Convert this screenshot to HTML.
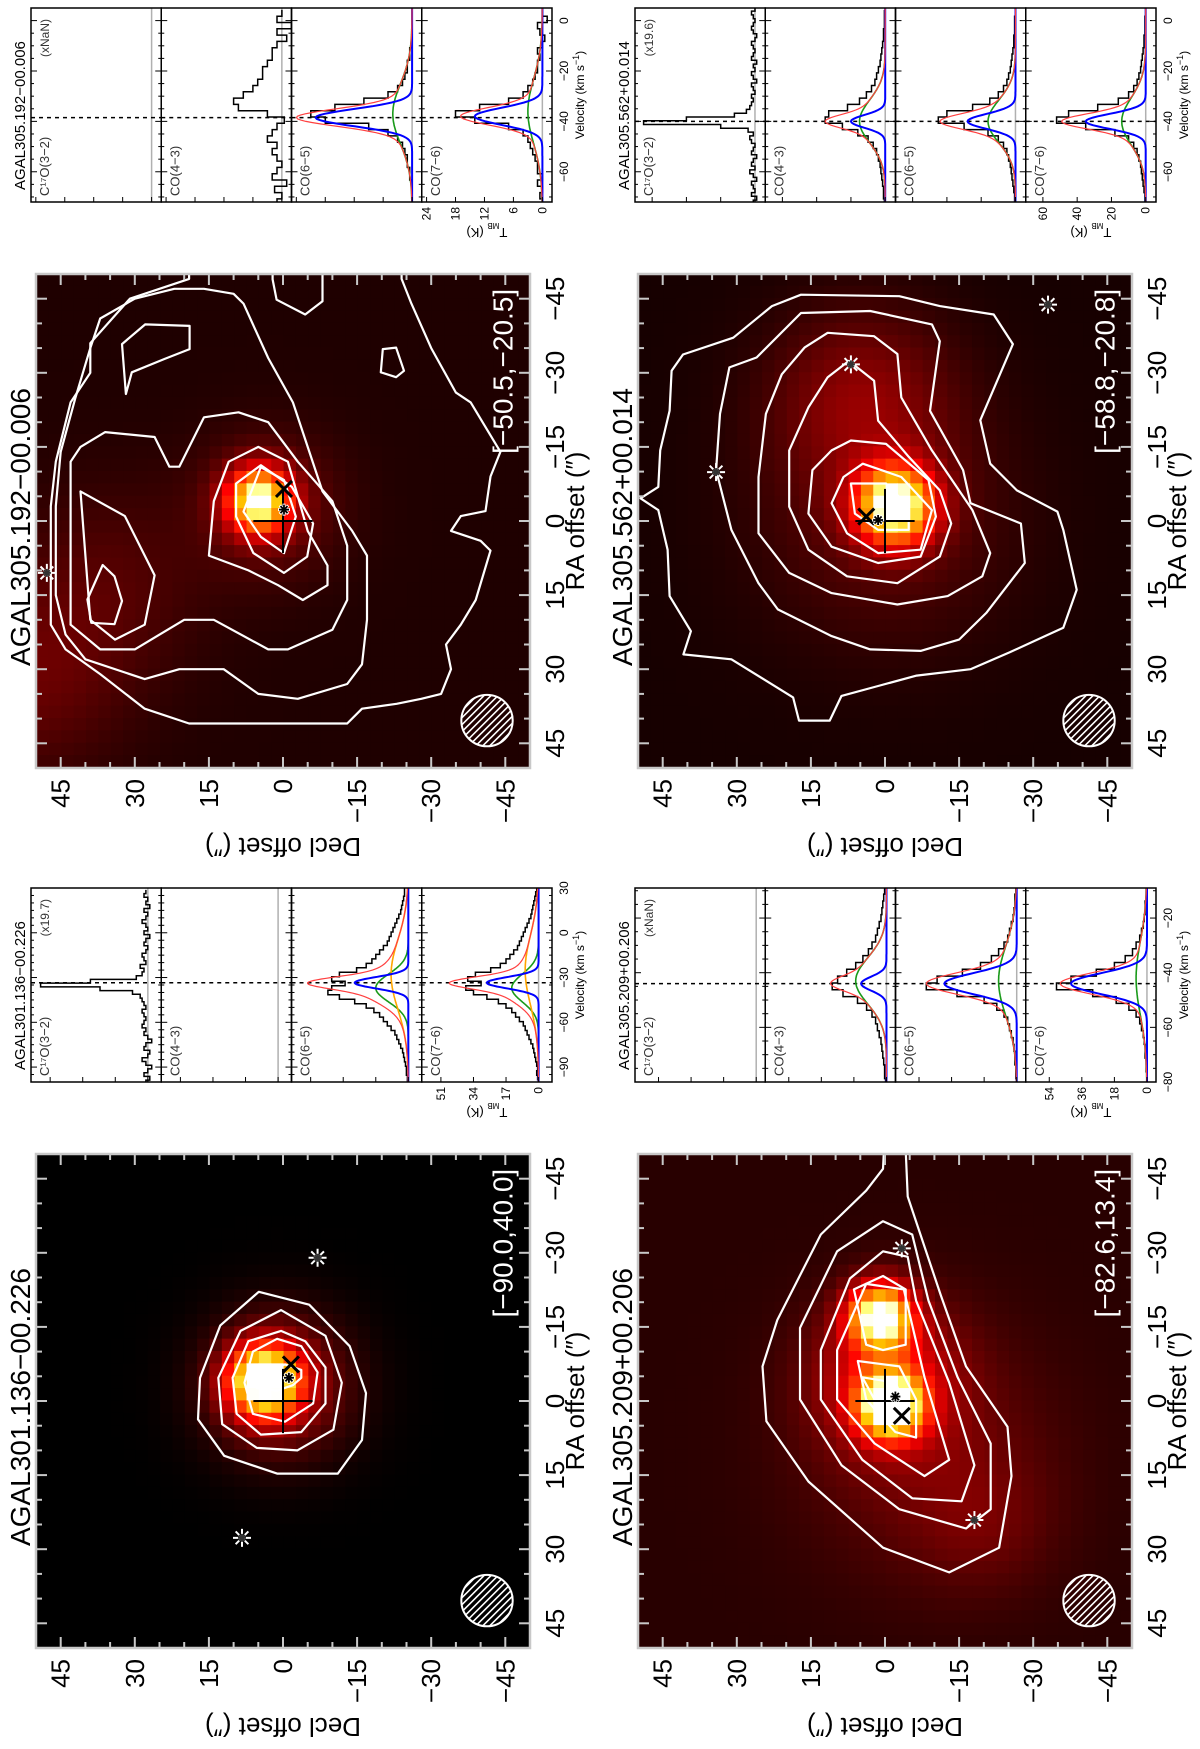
<!DOCTYPE html>
<html>
<head>
<meta charset="utf-8">
<style>
html,body{margin:0;padding:0;background:#fff;}
#stage{position:relative;width:1200px;height:1749px;overflow:hidden;background:#fff;}
#fig{position:absolute;left:0;top:0;width:1749px;height:1200px;transform-origin:0 0;transform:translateY(1749px) rotate(-90deg);font-family:"Liberation Sans",sans-serif;}
</style>
</head>
<body>
<div id="stage">
<svg id="fig" xmlns="http://www.w3.org/2000/svg" width="1749" height="1200" viewBox="0 0 1749 1200"><defs id="defs"></defs></svg>
</div>
<script>
// ---------------- MAP DATA ----------------
const mapTitles = ['AGAL301.136\u221200.226','AGAL305.192\u221200.006','AGAL305.209+00.206','AGAL305.562+00.014'];
const mapRangeLabels = ['[\u221290.0,40.0]','[\u221250.5,\u221220.5]','[\u221282.6,13.4]','[\u221258.8,\u221220.8]'];
const axisTicks = [45,30,15,0,-15,-30,-45];
const mapBackground = [0.0, 0.055, 0.07, 0.04];
// blobs: [ra, dec, amplitude, sigma]
const blobs301 = [[-4,4,0.95,5],[-3,1,0.3,10]];
const blobs192 = [[-4,5,0.85,4.5],[-3,3,0.15,10],[12,35,0.08,14],[32,52,0.12,14]];
const blobs209 = [[1,-1,0.95,4.5],[-17,1,0.9,4.5],[-5,0,0.3,10],[10,-8,0.12,18],[25,-20,0.08,10]];
const blobs562 = [[-3,-2,0.95,5.5],[-25,5,0.18,13],[0,0,0.12,18]];
const mapBlobs = [blobs301, blobs192, blobs209, blobs562];
// contours: arrays of [ra, dec]
const contours301 = [
 [[-22.1,4.9],[-15.3,12.7],[-4.7,16.8],[3.7,17.2],[11.1,11.9],[14.7,1.2],[14.7,-11.1],[7.9,-16],[-1.6,-16.8],[-11.1,-13.5],[-19.5,-5.3]],
 [[-18.4,0.4],[-14.2,8.6],[-4.7,13.1],[4.7,12.3],[9.5,5.3],[10,-2.9],[5.8,-10.2],[-3.7,-11.9],[-13.2,-8.6]],
 [[-14.2,0.4],[-12.1,7],[-4.7,10.2],[2.6,9.4],[6.8,4.5],[6.3,-3.7],[0.5,-8.6],[-6.8,-8.6],[-12.1,-4.5]],
 [[-12.6,1.2],[-10,6.1],[-3.7,7.8],[2.6,6.1],[4.2,-0.4],[0.5,-6.1],[-5.8,-7],[-11.1,-3.7]],
 [[-6.3,2.9],[-4.7,5.3],[-2.6,5.3],[-2.1,1.2],[-3.2,-2],[-4.7,-3.7],[-6.3,-3.7],[-7.4,-0.4]]
];
const contours192 = [
 [[-49,19],[-45,31],[-36,39],[-30,39],[-24,43],[-12,46],[-3,47],[9,47],[21,47],[26,44],[31,37],[38,28],[41,19],[41,9],[41,-4],[41,-13],[38,-16],[37,-23],[36,-28],[35,-32],[30,-34],[25,-33],[21,-36],[16,-39],[6,-42],[4,-40],[2,-34],[-1,-36],[-2,-41],[-9,-42],[-14,-44],[-24,-38],[-26,-35],[-35,-30],[-44,-26],[-49,-24],[-55,-24],[-55,19]],
 [[-47,22],[-45,30],[-41,37],[-35,39],[-25,42],[-14,45],[-3,46],[15,46],[23,44],[28,40],[32,28],[30,21],[30,12],[35,5],[36,-3],[33,-13],[29,-16],[20,-17],[7,-17],[2,-14],[-6,-8],[-24,-2],[-33,3],[-44,8],[-46,10],[-47,16]],
 [[-15,41],[-12,43],[21,43],[26,37],[26,30],[20,20],[20,14],[26,3],[26,-1],[22,-10],[16,-13],[5,-13],[-4,-10],[-12,-3],[-20,3],[-22,9],[-21,16],[-11,21],[-11,23],[-17,26],[-18,36]],
 [[-6,41],[20,39],[24,34],[21,28],[11,26],[-1,32]],
 [[7,15],[-4,14],[-12,11],[-15,5],[-12,-1],[2,-5],[9,-9],[13,-9],[16,-4],[13,1],[10,7]],
 [[-7.6,9.5],[-11.3,4.5],[-6.9,-1.8],[0.5,-6.1],[7.2,-4.9],[10.5,-0.2],[6.5,6],[-0.9,9.5]],
 [[-1.9,8],[-10.9,4.5],[-8.3,-0.2],[-0.9,-2.6],[6.5,-0.2],[3.2,4.5]],
 [[8.9,36.5],[15.9,39.6],[20.6,38.8],[20.9,34.1],[16.2,32.6],[11.2,34.1]],
 [[-25.7,31.8],[-35.8,32.6],[-39.8,27.9],[-39.5,18.9],[-34.8,18.9],[-32.8,24],[-30.1,30.6]],
 [[-34.8,-20.2],[-35.1,-22.9],[-30.4,-24.5],[-29.1,-22.9],[-30.1,-19.8]],
 [[-55,2.1],[-48.9,2.1],[-44.8,1.3],[-41.8,-4.5],[-44.5,-8],[-48.9,-8],[-55,-8]]
];
const contours209 = [
 [[-47,0.4],[-42.6,3.8],[-33.7,13],[-16.4,21.8],[-7,24.8],[4.1,24],[16.3,15.5],[29.7,0.4],[34.7,-13],[29.7,-23.1],[15.2,-25.6],[5.2,-24.8],[-7,-16.4],[-21.4,-11.3],[-41.4,-4.6],[-55,-4],[-55,0]],
 [[-36.4,0.4],[-30.3,9.7],[-14.8,17.2],[-0.3,17.2],[13,8.8],[21.9,-2.9],[25.8,-16.4],[21.9,-21.4],[8.6,-21.4],[-4.8,-14.7],[-20.3,-8.8],[-33.7,-5.5]],
 [[-30.3,0.4],[-24.8,7.1],[-10.3,13],[-0.3,13],[11.9,4.6],[19.7,-5.5],[20.3,-15.5],[13,-18.1],[-3.7,-13],[-20.3,-6.3],[-29.2,-4.6]],
 [[-23.7,3.8],[-10.3,9.7],[-0.3,9.7],[8.6,2.1],[15.2,-8],[11.9,-13],[-4.8,-8],[-22.6,-3.8]],
 [[-22.6,6.3],[-25.3,0.4],[-22.6,-4.2],[-11.4,-4.2],[-10.3,0.4],[-11.4,3.8]],
 [[-8.1,5.5],[-0.3,3.8],[6.3,-2.1],[7.4,-6.3],[-0.3,-6.3],[-7,-2.9]],
 [[-4.8,4.6],[-0.3,2.1],[4.1,-2.9],[1.9,-4.6],[-3.7,-2.1]]
];
const contours562 = [
 [[-45.8,17],[-43.5,22.9],[-37.1,30.7],[-33.7,40.9],[-30.4,43.2],[-22.3,43.6],[-14.3,45.5],[-6.9,45.9],[-4.6,49.5],[-2.2,45.9],[5.8,44],[15.2,43.6],[22.3,39.3],[27,40.8],[28,31.1],[35.7,18.6],[40.4,17.4],[40.4,11.2],[35.4,8.8],[33.4,1.4],[31.3,-6.4],[30,-17.3],[26.6,-25.2],[21.6,-36.1],[13.9,-38.8],[1.8,-36.1],[-1.9,-34.9],[-6.2,-26.7],[-11.6,-21.3],[-20.4,-19.3],[-35.8,-25.9],[-41.8,-22],[-43.5,-11.1],[-45.5,-2.9]],
 [[-42.1,17],[-33.1,26],[-31.1,31.5],[-21.7,33.4],[-10.3,34.2],[1.8,31.1],[12.6,25.6],[17.9,21.7],[23.3,10.8],[26,3],[26.3,-7.2],[24,-15],[18.6,-20.5],[8.5,-28.3],[0.5,-27.5],[-3.6,-17.3],[-10.3,-15.8],[-22.3,-9.1],[-36.4,-11.1],[-39.8,-9.5],[-42.5,3]],
 [[-38.1,11.6],[-37.4,2.2],[-33.8,-2.5],[-25,-3.3],[-14.3,-9.5],[-2.2,-17.7],[6.5,-21.3],[11.2,-19.7],[15.2,-12.7],[16.9,-2.5],[14.6,10.8],[10.5,19.4],[2.5,25.6],[-8.9,25.6],[-21.7,24.1],[-29.7,20.9],[-35.1,16.3]],
 [[-32.4,7.3],[-28.4,2.2],[-20.3,1.4],[-13,-4.8],[-6.2,-11.1],[0.5,-13.4],[7.2,-11.1],[12.6,-2.5],[11.2,7.7],[5.8,15.5],[-2.9,19.4],[-14.3,19.4],[-23,15.5],[-29.1,11.6]],
 [[-14.3,10.8],[-16.3,6.9],[-15.6,-0.2],[-8.3,-8.8],[-0.9,-10.3],[7.2,-7.2],[8.5,1.4],[5.2,10.8],[-1.5,15.5],[-10.3,14.7]],
 [[-8.9,8.4],[-11.6,4.5],[-8.9,-3.3],[-2.2,-9.5],[5.8,-7.2],[6.5,1.4],[2.5,7.7],[-3.6,10.8]],
 [[-7.6,6.9],[-7.6,-0.2],[-2.9,-4.8],[1.8,-4.8],[1.8,1.4],[-1.5,6.1]]
];
const mapContours = [contours301, contours192, contours209, contours562];
const mapStars = [[[27.7,8.3],[-29,-7]], [[10.5,47.8]], [[-30.9,-3.4],[24.1,-18.1]], [[-31.7,6.9],[-9.9,34.2],[-43.8,-33]]];
const mapXMarks = [[-7.4,-1.6],[-6.5,-0.2],[3,-3.4],[-0.9,3.8]];
const mapAsterisks = [[-4.7,-1.2],[-2.3,-0.2],[-0.9,-2.1],[-0.2,1.4]];
const beamPos = [40.4,-41.3];
const beamRadius = 5.2;

// ---------------- SPECTRA DATA ----------------
const lineNames = ['C\u00B9\u2077O(3\u22122)','CO(4\u22123)','CO(6\u22125)','CO(7\u22126)'];
const specTitles = ['AGAL301.136\u221200.226','AGAL305.192\u221200.006','AGAL305.209+00.206','AGAL305.562+00.014'];
const specScaleNotes = ['(x19.7)','(xNaN)','(xNaN)','(x19.6)'];
const specVelRange = [[-100,30],[-72,5],[-80,-9],[-72,5]];
const specVelTicks = [[-90,-60,-30,0,30],[-60,-40,-20,0],[-80,-60,-40,-20],[-60,-40,-20,0]];
const specTRange = [[-7,61],[-2,25],[-5,67],[-6,70]];
const specTTicks = [[0,17,34,51],[0,6,12,18,24],[0,18,36,54],[0,20,40,60]];
const specVlsr = [-33.5,-38.5,-44,-40];
const spec301 = [
 {v0:-100,dv:2.5,vals:[1,-1,2,0,-2,1,3,0,-1,2,1,-2,0,2,1,3,2,1,2,3,1,2,3,4,8,25,56,30,6,3,2,4,1,2,3,1,0,2,1,-1,2,0,1,3,1,0,2,-1,1,0,2,1]},
 null,
 {v0:-100,dv:3,vals:[0.5,0.5,1,1,1.5,2,2.5,3,4,5,6,7,9,11,13,15,18,22,28,36,42,40,33,40,36,27,22,19,17,15,13,11,10,9,8,7,6,5,4,3.5,3,2.5,2,2]},
 {v0:-100,dv:3,vals:[0,0.5,1,0.5,1,1.5,2,2.5,3,4,5,6,7,8,10,12,14,17,21,27,34,38,30,37,33,25,20,17,15,13,11,10,9,8,7,6,5,4,3.5,3,2.5,2,1.5,1]}
];
const spec192 = [
 null,
 {v0:-72,dv:2.5,vals:[1,0,1.5,-1,2,1,0,1,2,1,3,2,1,-0.5,3,9,10,8,6,5,4,4,3,2,2,1,-1,1,-2,1,0]},
 {v0:-72,dv:2.5,vals:[0,0,0,0,0.5,0.5,1,1,1.5,2,3,5,9,18,21,16,10,5,3,2,1.5,1,1,0.5,0.5,0,0,0,0,0,0]},
 {v0:-72,dv:2.5,vals:[0,0.5,0,1,0,1,1,1.5,2,2.5,3,4,7,14,18,13,7,4,3,2,1.5,1,1,0.5,1,0,-0.5,0.5,1,-1,0]}
];
const spec209 = [
 null,
 {v0:-80,dv:2.5,vals:[0.5,1,1,1.5,2,2.5,3,4,5,6,8,11,16,24,30,27,22,17,13,10,8,6,5,4,3,2.5,2,1.5,1]},
 {v0:-80,dv:2.5,vals:[0,0.5,0.5,1,1,1.5,2,3,4,5,7,11,18,33,50,44,30,20,14,10,7,5,4,3,2,1.5,1,1,0.5]},
 {v0:-80,dv:2.5,vals:[0,0,0.5,0.5,1,1,1.5,2,3,4,6,10,17,30,50,42,28,18,12,8,6,4,3,2,1.5,1,1,0.5,0.5]}
];
const spec562 = [
 {v0:-72,dv:1.5,vals:[1,-1,2,0,1,2,-1,1,3,0,2,1,-1,2,1,0,2,3,1,4,20,65,40,12,5,3,2,1,2,0,1,2,-1,1,2,0,1,-1,2,1,0,1,2,0,-1,1,2,1,0,1,2,0]},
 {v0:-72,dv:2.5,vals:[0.5,1,1,1.5,2,2.5,3,4,5,7,10,16,25,35,33,22,15,11,8,6,5,4,3,2.5,2,1.5,1,1,0.5,0.5,0.5]},
 {v0:-72,dv:2.5,vals:[0.5,0.5,1,1.5,2,2.5,3,4,5,7,10,16,30,45,40,25,15,10,7,5,4,3,2.5,2,1.5,1,1,0.5,0.5,0.5,0]},
 {v0:-72,dv:2.5,vals:[0.5,0.5,1,1.5,2,2.5,3,4,5,7,10,18,35,52,45,28,16,10,7,5,4,3,2.5,2,1.5,1,1,0.5,0.5,0.5,0]}
];
const specData = [spec301, spec192, spec209, spec562];
const fits301 = [null, null, {blue:[28,-33.5,9],green:[17,-37,22],orange:[9,-28,55]}, {blue:[27,-33.5,9],green:[14,-37,22],orange:[7,-25,55]}];
const fits192 = [null, null, {blue:[20,-38.5,8],green:[4,-37,28]}, {blue:[14,-38,8],green:[3,-36,30]}];
const fits209 = [null, {blue:[14,-44,6],green:[17,-43,20]}, {blue:[40,-44,9],green:[10,-43,30]}, {blue:[42,-44,9],green:[6,-42,32]}];
const fits562 = [null, {blue:[20,-40,6],green:[15,-40,20]}, {blue:[28,-40,7],green:[16,-40,20]}, {blue:[35,-40,7],green:[14,-40,22]}];
const specFits = [fits301, fits192, fits209, fits562];

// ---------------- LAYOUT (original, unrotated orientation) ----------------
const mapPos = [[101,36],[981,36],[101,638],[981,638]];
const specPos = [[667,31],[1547,31],[667,635],[1547,635]];

// ---------------- DRAWING ----------------
const NS = 'http://www.w3.org/2000/svg';
const svg = document.getElementById('fig');
const defs = document.getElementById('defs');


function mk(tag, attrs, parent, name) {
  const e = document.createElementNS(NS, tag);
  for (const k in attrs) e.setAttribute(k, attrs[k]);
  
  
  (parent || svg).appendChild(e);
  return e;
}
function txt(str, attrs, parent, name) {
  const t = mk('text', attrs, parent, name);
  t.textContent = str;
  return t;
}
function clamp(x){return Math.max(0, Math.min(1, x));}
function cmap(v){
  const r = clamp(v/0.45), g = clamp((v-0.45)/0.45), b = clamp((v-0.8)/0.2);
  return 'rgb(' + Math.round(r*255) + ',' + Math.round(g*255) + ',' + Math.round(b*255) + ')';
}
function star(g, x, y, r, color, w, name) {
  const s = mk('g', {}, g, name);
  for (let a = 0; a < 4; a++) {
    const ang = a*Math.PI/4;
    mk('line', {x1:x-r*Math.cos(ang), y1:y-r*Math.sin(ang), x2:x+r*Math.cos(ang), y2:y+r*Math.sin(ang), stroke:color, 'stroke-width':w}, s, 'star-stroke');
  }
  return s;
}

function drawMap(i) {
  const X0 = mapPos[i][0], Y0 = mapPos[i][1], S = 494, R = 50;
  const px = ra => X0 + (R - ra) / (2*R) * S;
  const py = dec => Y0 + (R - dec) / (2*R) * S;
  const g = mk('g', {}, svg, 'map-panel-' + (i+1));
  const cp = mk('clipPath', {id:'mclip'+i}, defs, 'map-clip');
  mk('rect', {x:X0, y:Y0, width:S, height:S}, cp, 'map-clip-rect');
  const heat = mk('g', {'clip-path':'url(#mclip'+i+')'}, g, 'intensity-image');
  const cell = 2.5, cw = cell*S/(2*R) + 0.6;
  for (let ra = -R; ra < R; ra += cell) {
    for (let dec = -R; dec < R; dec += cell) {
      const cra = ra + cell/2, cdec = dec + cell/2;
      let v = mapBackground[i];
      for (const b of mapBlobs[i]) {
        const d2 = (cra-b[0])*(cra-b[0]) + (cdec-b[1])*(cdec-b[1]);
        v += b[2]*Math.exp(-d2/(2*b[3]*b[3]));
      }
      mk('rect', {x:px(ra+cell).toFixed(2), y:py(dec+cell).toFixed(2), width:cw.toFixed(2), height:cw.toFixed(2), fill:cmap(v)}, heat, 'image-pixel');
    }
  }
  const cg = mk('g', {'clip-path':'url(#mclip'+i+')'}, g, 'contours');
  for (const c of mapContours[i]) {
    const d = c.map((p, k) => (k ? 'L' : 'M') + px(p[0]).toFixed(1) + ',' + py(p[1]).toFixed(1)).join(' ') + ' Z';
    mk('path', {d:d, fill:'none', stroke:'#fff', 'stroke-width':2.2, 'stroke-linejoin':'round'}, cg, 'contour-line');
  }
  const mg = mk('g', {'clip-path':'url(#mclip'+i+')'}, g, 'markers');
  for (const s of mapStars[i]) {
    star(mg, px(s[0]), py(s[1]), 9, '#fff', 2, 'ysos-star');
    star(mg, px(s[0]), py(s[1]), 4, '#333', 2, 'ysos-star-core');
  }
  mk('line', {x1:px(6.5), y1:py(0), x2:px(-6.5), y2:py(0), stroke:'#000', 'stroke-width':2}, mg, 'center-cross-h');
  mk('line', {x1:px(0), y1:py(6), x2:px(0), y2:py(-6), stroke:'#000', 'stroke-width':2}, mg, 'center-cross-v');
  const xm = mapXMarks[i];
  mk('path', {d:'M'+(px(xm[0])-8)+','+(py(xm[1])-8)+' L'+(px(xm[0])+8)+','+(py(xm[1])+8)+' M'+(px(xm[0])-8)+','+(py(xm[1])+8)+' L'+(px(xm[0])+8)+','+(py(xm[1])-8), stroke:'#000', 'stroke-width':3}, mg, 'x-marker');
  const am = mapAsterisks[i];
  star(mg, px(am[0]), py(am[1]), 6, '#fff', 3, 'asterisk-halo');
  star(mg, px(am[0]), py(am[1]), 5, '#000', 1.8, 'asterisk-marker');
  const bx = px(beamPos[0]), by = py(beamPos[1]), br = beamRadius*S/(2*R);
  const bcp = mk('clipPath', {id:'bclip'+i}, defs, 'beam-clip');
  mk('circle', {cx:bx, cy:by, r:br}, bcp, 'beam-clip-circle');
  const bg = mk('g', {'clip-path':'url(#bclip'+i+')'}, g, 'beam-hatch');
  for (let k = -6; k <= 6; k++) {
    mk('line', {x1:bx + k*7 - 40, y1:by - 40, x2:bx + k*7 + 40, y2:by + 40, stroke:'#fff', 'stroke-width':1.6}, bg, 'hatch-line');
  }
  mk('circle', {cx:bx, cy:by, r:br, fill:'none', stroke:'#fff', 'stroke-width':2}, g, 'beam-ellipse');
  txt(mapRangeLabels[i], {x:px(-47), y:py(-46.5), 'text-anchor':'end', fill:'#fff', 'font-size':28, 'font-family':'Liberation Sans, sans-serif'}, g, 'velocity-range-label');
  mk('rect', {x:X0, y:Y0, width:S, height:S, fill:'none', stroke:'#c8c8c8', 'stroke-width':2.5}, g, 'map-frame');
  for (let t = -45; t <= 45; t += 5) {
    const L = (t % 15 === 0) ? 11 : 6;
    mk('line', {x1:px(t), y1:Y0, x2:px(t), y2:Y0+L, stroke:'#c8c8c8', 'stroke-width':2}, g, 'ra-tick-top');
    mk('line', {x1:px(t), y1:Y0+S, x2:px(t), y2:Y0+S-L, stroke:'#c8c8c8', 'stroke-width':2}, g, 'ra-tick-bottom');
    mk('line', {x1:X0, y1:py(t), x2:X0+L, y2:py(t), stroke:'#c8c8c8', 'stroke-width':2}, g, 'dec-tick-left');
    mk('line', {x1:X0+S, y1:py(t), x2:X0+S-L, y2:py(t), stroke:'#c8c8c8', 'stroke-width':2}, g, 'dec-tick-right');
  }
  for (const t of axisTicks) {
    txt(String(t).replace('-', '\u2212'), {x:px(t), y:Y0+S+34, 'text-anchor':'middle', 'font-size':26, fill:'#000'}, g, 'ra-tick-label');
    txt(String(t).replace('-', '\u2212'), {x:X0-11, y:py(t)+9, 'text-anchor':'end', 'font-size':26, fill:'#000'}, g, 'dec-tick-label');
  }
  txt('RA offset (\u2033)', {x:X0+S/2, y:Y0+S+54, 'text-anchor':'middle', 'font-size':26, fill:'#000'}, g, 'x-axis-title');
  txt('Decl offset (\u2033)', {x:X0-70, y:Y0+S/2, 'text-anchor':'middle', 'font-size':26, fill:'#000', transform:'rotate(-90 ' + (X0-70) + ' ' + (Y0+S/2) + ')'}, g, 'y-axis-title');
  txt(mapTitles[i], {x:X0+S/2-6, y:Y0-6, 'text-anchor':'middle', 'font-size':28, fill:'#000'}, g, 'map-title');
}

function gauss(p, v) { return p[0]*Math.exp(-4*Math.LN2*(v-p[1])*(v-p[1])/(p[2]*p[2])); }

function drawSpectra(i) {
  const Xb = specPos[i][0], Yb = specPos[i][1], W = 194, H = 521, h = H/4;
  const vr = specVelRange[i], tr = specTRange[i];
  const vx = v => Xb + (v - vr[0])/(vr[1]-vr[0])*W;
  const g = mk('g', {}, svg, 'spectra-panel-' + (i+1));
  txt(specTitles[i], {x:Xb+12, y:Yb-6, 'font-size':15, fill:'#000'}, g, 'spectra-title');
  for (let k = 0; k < 4; k++) {
    const top = Yb + k*h, bot = top + h;
    const ty = T => bot - (T - tr[0])/(tr[1]-tr[0])*h;
    const pg = mk('g', {}, g, 'spectrum-' + lineNames[k].replace(/[^A-Za-z0-9]/g,'').toLowerCase());
    const cid = 'sclip' + i + '_' + k;
    const cp = mk('clipPath', {id:cid}, defs, 'spectrum-clip');
    mk('rect', {x:Xb, y:top, width:W, height:h}, cp, 'spectrum-clip-rect');
    const inner = mk('g', {'clip-path':'url(#'+cid+')'}, pg, 'spectrum-plot-area');
    mk('line', {x1:Xb, y1:ty(0), x2:Xb+W, y2:ty(0), stroke:'#b0b0b0', 'stroke-width':1.5}, inner, 'baseline');
    mk('line', {x1:vx(specVlsr[i]), y1:top, x2:vx(specVlsr[i]), y2:bot, stroke:'#000', 'stroke-width':1.5, 'stroke-dasharray':'4,4'}, inner, 'vlsr-dashed-line');
    const d = specData[i][k];
    if (d) {
      let p = '';
      d.vals.forEach((val, j) => {
        const a = vx(d.v0 + (j-0.5)*d.dv), b = vx(d.v0 + (j+0.5)*d.dv), y = ty(val);
        p += (j ? 'L' : 'M') + a.toFixed(1) + ',' + y.toFixed(1) + ' L' + b.toFixed(1) + ',' + y.toFixed(1) + ' ';
      });
      mk('path', {d:p, fill:'none', stroke:'#000', 'stroke-width':1.5}, inner, 'observed-histogram');
    }
    const f = specFits[i][k];
    if (f) {
      const comps = [['green','#1a9a1a',1.6],['orange','#ffa500',1.6],['blue','#0000ff',2]];
      for (const c of comps) {
        if (!f[c[0]]) continue;
        let p = '';
        for (let v = vr[0]; v <= vr[1]; v += 0.5) p += (v === vr[0] ? 'M' : 'L') + vx(v).toFixed(1) + ',' + ty(gauss(f[c[0]], v)).toFixed(1) + ' ';
        mk('path', {d:p, fill:'none', stroke:c[1], 'stroke-width':c[2]}, inner, c[0] + '-fit-component');
      }
      let p = '';
      for (let v = vr[0]; v <= vr[1]; v += 0.5) {
        let s = 0; for (const c of comps) if (f[c[0]]) s += gauss(f[c[0]], v);
        p += (v === vr[0] ? 'M' : 'L') + vx(v).toFixed(1) + ',' + ty(s).toFixed(1) + ' ';
      }
      mk('path', {d:p, fill:'none', stroke:'#ff4040', 'stroke-width':1.2}, inner, 'total-fit');
    }
    mk('rect', {x:Xb, y:top, width:W, height:h, fill:'none', stroke:'#000', 'stroke-width':1.5}, pg, 'spectrum-frame');
    for (let v = Math.ceil(vr[0]/5)*5; v <= vr[1]; v += 5) {
      const major = specVelTicks[i].indexOf(v) >= 0;
      const L = major ? 6 : 3;
      mk('line', {x1:vx(v), y1:top, x2:vx(v), y2:top+L, stroke:'#000', 'stroke-width':1}, pg, 'velocity-tick');
      mk('line', {x1:vx(v), y1:bot, x2:vx(v), y2:bot-L, stroke:'#000', 'stroke-width':1}, pg, 'velocity-tick');
    }
    for (const t of specTTicks[i]) {
      mk('line', {x1:Xb, y1:ty(t), x2:Xb+5, y2:ty(t), stroke:'#000', 'stroke-width':1}, pg, 'tmb-tick');
      if (k === 3) txt(String(t), {x:Xb-5, y:ty(t)+4, 'text-anchor':'end', 'font-size':12, fill:'#000'}, pg, 'tmb-tick-label');
    }
    txt(lineNames[k], {x:Xb+6, y:top+18, 'font-size':13, fill:'#333'}, pg, 'line-name-label');
  }
  txt(specScaleNotes[i], {x:Xb+W-11, y:Yb+18, 'text-anchor':'end', 'font-size':12, fill:'#333'}, g, 'scale-factor-label');
  for (const v of specVelTicks[i]) {
    txt(String(v).replace('-', '\u2212'), {x:vx(v), y:Yb+H+16, 'text-anchor':'middle', 'font-size':12, fill:'#000'}, g, 'velocity-tick-label');
  }
  const vt = txt('Velocity (km s', {x:Xb+W/2+10, y:Yb+H+32, 'text-anchor':'middle', 'font-size':12, fill:'#000'}, g, 'velocity-axis-title');
  const sup = mk('tspan', {'baseline-shift':'super', 'font-size':9}, vt, 'velocity-unit-exponent');
  sup.textContent = '\u22121';
  const cl = mk('tspan', {}, vt, 'velocity-unit-close');
  cl.textContent = ')';
  const tx = Xb - 26, tyc = Yb + 3.5*h;
  const tt = txt('T', {x:tx, y:tyc, 'text-anchor':'middle', 'font-size':13, fill:'#000', transform:'rotate(-90 ' + tx + ' ' + tyc + ')'}, g, 'tmb-axis-title');
  const sub = mk('tspan', {'baseline-shift':'sub', 'font-size':8}, tt, 'tmb-subscript');
  sub.textContent = 'MB';
  const un = mk('tspan', {}, tt, 'tmb-unit');
  un.textContent = ' (K)';
}

for (let i = 0; i < 4; i++) { drawMap(i); drawSpectra(i); }
</script>
</body>
</html>
